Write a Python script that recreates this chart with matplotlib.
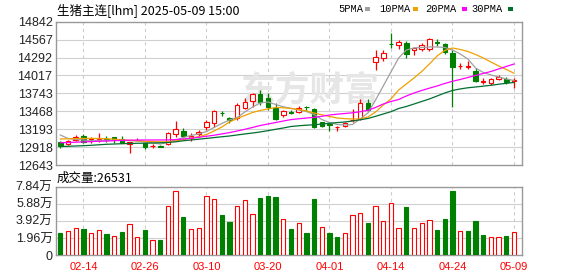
import matplotlib
matplotlib.use("Agg")
import matplotlib.pyplot as plt
from matplotlib.patches import Rectangle

plt.rcParams['font.family'] = ['Liberation Sans', 'Noto Sans CJK SC', 'DejaVu Sans']

# 交易日 (2025)
dates = ["02-11", "02-12", "02-13", "02-14", "02-17", "02-18", "02-19", "02-20", "02-21",
         "02-24", "02-25", "02-26", "02-27", "02-28",
         "03-03", "03-04", "03-05", "03-06", "03-07", "03-10", "03-11", "03-12", "03-13", "03-14",
         "03-17", "03-18", "03-19", "03-20", "03-21", "03-24", "03-25", "03-26", "03-27", "03-28", "03-31",
         "04-01", "04-02", "04-03", "04-07", "04-08", "04-09", "04-10", "04-11", "04-14", "04-15",
         "04-16", "04-17", "04-18", "04-21", "04-22", "04-23", "04-24", "04-25", "04-28", "04-29", "04-30",
         "05-06", "05-07", "05-08", "05-09"]

opens = [13001, 12970, 13034, 13093, 13019, 13022, 13037, 13073, 13037, 12965,
         13019, 12976, 12928, 12934, 12965, 13114, 13170, 13053, 13119, 13222,
         13292, 13444, 13369, 13360, 13513, 13625, 13727, 13667, 13523, 13411,
         13455, 13462, 13540, 13500, 13298, 13265, 13219, 13242, 13334, 13349,
         13590, 14229, 14290, 14500, 14480, 14511, 14403, 14419, 14419, 14525,
         14496, 14367, 14158, 14152, 14086, 13917, 13906, 13958, 13958, 13932]
highs = [13008, 13031, 13096, 13119, 13065, 13134, 13088, 13073, 13088, 13001,
         13057, 12985, 12961, 12955, 13145, 13323, 13206, 13130, 13180, 13334,
         13487, 13476, 13384, 13590, 13667, 13753, 13794, 13744, 13590, 13487,
         13487, 13549, 13553, 13520, 13308, 13308, 13246, 13308, 13498, 13656,
         13656, 14408, 14408, 14674, 14562, 14546, 14459, 14511, 14592, 14577,
         14511, 14408, 14213, 14244, 14127, 13974, 13974, 14024, 13998, 13983]
lows = [12900, 12955, 13011, 12985, 12981, 13001, 12991, 12976, 12981, 12832,
        13011, 12884, 12899, 12915, 12950, 13077, 13062, 13016, 13077, 13180,
        13231, 13400, 13292, 13334, 13503, 13538, 13564, 13487, 13334, 13375,
        13421, 13437, 13472, 13215, 13231, 13165, 13170, 13222, 13308, 13334,
        13452, 14101, 14244, 14444, 14428, 14290, 14326, 14397, 14388, 14470,
        14342, 13538, 14112, 14117, 13917, 13882, 13871, 13943, 13882, 13829]
closes = [12939, 13011, 13073, 13001, 13042, 13047, 13022, 13037, 12985, 13001,
          13027, 12919, 12938, 12926, 13130, 13196, 13088, 13088, 13154, 13298,
          13472, 13434, 13334, 13564, 13605, 13727, 13615, 13538, 13344, 13472,
          13447, 13523, 13530, 13222, 13246, 13258, 13224, 13283, 13341, 13590,
          13487, 14297, 14358, 14493, 14531, 14342, 14444, 14485, 14577, 14515,
          14382, 14152, 14168, 14156, 13932, 13927, 13958, 13998, 13912, 13942]

ma5 = [13104, 13050, 13034, 13027, 13015, 13019, 13022, 13024, 13019, 13016,
       13011, 12996, 12981, 12965, 12988, 13027, 13065, 13096, 13119, 13157,
       13219, 13280, 13334, 13372, 13457, 13533, 13595, 13610, 13572, 13536,
       13513, 13487, 13464, 13418, 13341, 13295, 13265, 13257, 13265, 13349,
       13441, 13641, 13856, 14071, 14285, 14408, 14439, 14447, 14454, 14454,
       14447, 14408, 14347, 14270, 14132, 14063, 14025, 13994, 13963, 13940]
ma10 = [13042, 13045, 13048, 13051, 13051, 13050, 13047, 13039, 13030, 13022,
        13015, 13007, 13002, 12999, 12999, 13011, 13034, 13057, 13077, 13111,
        13165, 13226, 13303, 13357, 13403, 13449, 13480, 13503, 13526, 13521,
        13510, 13495, 13472, 13441, 13414, 13388, 13364, 13354, 13349, 13349,
        13380, 13457, 13564, 13656, 13794, 13886, 13979, 14078, 14193, 14316,
        14401, 14439, 14416, 14385, 14339, 14285, 14224, 14163, 14109, 14051]
ma20 = [12985, 12988, 12993, 12998, 13002, 13007, 13011, 13016, 13021, 13024,
        13025, 13027, 13027, 13027, 13028, 13033, 13042, 13054, 13068, 13084,
        13100, 13120, 13140, 13165, 13191, 13219, 13249, 13272, 13295, 13318,
        13340, 13352, 13364, 13374, 13390, 13410, 13423, 13433, 13444, 13460,
        13483, 13526, 13579, 13618, 13648, 13702, 13748, 13787, 13822, 13856,
        13894, 13928, 13955, 13986, 14017, 14048, 14078, 14117, 14155, 14193]
ma30 = [12927, 12930, 12935, 12939, 12945, 12953, 12961, 12965, 12970, 12973,
        12976, 12978, 12981, 12984, 12988, 12999, 13015, 13027, 13039, 13051,
        13064, 13076, 13088, 13104, 13119, 13134, 13150, 13170, 13191, 13211,
        13234, 13245, 13254, 13260, 13272, 13283, 13294, 13303, 13318, 13337,
        13357, 13390, 13426, 13461, 13510, 13541, 13579, 13618, 13656, 13702,
        13748, 13787, 13810, 13828, 13840, 13853, 13866, 13882, 13897, 13909]

volumes = [25300, 27600, 31000, 29900, 25300, 28700, 24100, 21800, 26400, 35200,
           20700, 28700, 17200, 17200, 56300, 73600, 43700, 29900, 31000, 67800,
           64400, 46000, 37900, 56300, 63200, 47100, 65500, 67800, 66700, 41400,
           29900, 36800, 25300, 64400, 32200, 25300, 20700, 25300, 46000, 48300,
           36800, 56300, 39100, 59800, 31000, 55200, 31000, 36800, 40200, 28700,
           41400, 73600, 27600, 27600, 39100, 23000, 20700, 20700, 21800, 26531]
vol_up = "GRRGRRGRGRRGRGRRGRRRRGGRRRGGGRGRGGRGGRRRGRRRRGRRRGGGRGGGRRGR"

price_ticks = [12643, 12918, 13193, 13468, 13743, 14017, 14292, 14567, 14842]
vol_ticks = [0, 19600, 39200, 58800, 78400]
vol_labels = ["0", "1.96万", "3.92万", "5.88万", "7.84万"]
date_labels = ["02-14", "02-26", "03-10", "03-20", "04-01", "04-14", "04-24", "05-09"]

ma_names = ["5PMA", "10PMA", "20PMA", "30PMA"]
ma_colors = ["#a0a0a0", "#f0a000", "#ff00ff", "#006f30"]
RED = "#ff0000"
GREEN = "#008000"
W, H = 578, 276

fig = plt.figure(figsize=(W / 100, H / 100), dpi=100)
ax = fig.add_axes([56 / W, 1 - 165 / H, 466.3 / W, 143.3 / H])
axv = fig.add_axes([56 / W, 1 - 255 / H, 466.3 / W, 68.3 / H])

x = list(range(len(dates)))
tick_pos = [dates.index(d) for d in date_labels]

for a in (ax, axv):
    a.set_xlim(-0.56, len(dates) + 0.08)
    for s in a.spines.values():
        s.set_color("#999999")
        s.set_linewidth(1.0)
    a.tick_params(length=0)
    for p in tick_pos:
        a.axvline(p, color="#cccccc", lw=0.8, ls=(0, (3, 3)), zorder=0)

# K线
ax.set_ylim(price_ticks[0], price_ticks[-1])
for v in price_ticks[1:-1]:
    ax.axhline(v, color="#d0d0d0", lw=0.8, zorder=0)
ax.text(0.545, 0.52, "东方财富", transform=ax.transAxes, fontsize=25, fontweight="bold",
        color="#e6e6e6", family=["Noto Sans CJK SC"], ha="center", va="center", zorder=0)

for i in x:
    o, c = opens[i], closes[i]
    col = RED if c >= o else GREEN
    ax.vlines(i, lows[i], highs[i], color=col, lw=0.9, zorder=2)
    body_h = max(abs(c - o), 4)
    ax.bar(i, body_h, bottom=min(o, c), width=0.58,
           facecolor="white" if c >= o else GREEN, edgecolor=col, lw=0.8, zorder=3)

for vals, col in zip([ma5, ma10, ma20, ma30], ma_colors):
    ax.plot(x, vals, color=col, lw=0.9, zorder=4)

ax.set_yticks(price_ticks)
ax.set_yticklabels([str(v) for v in price_ticks], fontsize=9, color="#222222")
ax.tick_params(axis="y", pad=2.5)
ax.set_xticks([])

# 成交量
axv.set_ylim(vol_ticks[0], vol_ticks[-1])
for v in vol_ticks[1:-1]:
    axv.axhline(v, color="#d0d0d0", lw=0.8, zorder=0)
for i in x:
    up = vol_up[i] == "R"
    axv.bar(i, volumes[i], width=0.56, facecolor="white" if up else GREEN,
            edgecolor=RED if up else GREEN, lw=0.8, zorder=3)
axv.set_yticks(vol_ticks)
axv.set_yticklabels(vol_labels, fontsize=9, color="#222222")
axv.tick_params(axis="y", pad=2.5)
axv.set_xticks(tick_pos)
axv.set_xticklabels(date_labels, fontsize=8, color=RED)
axv.tick_params(axis="x", pad=5)

# 标题与图例
fig.text(57 / W, 1 - 10 / H, "生猪主连[lhm] 2025-05-09 15:00", fontsize=9,
         family=["Noto Sans CJK SC", "DejaVu Sans"], va="center", ha="left")
fig.text(57 / W, 1 - 178 / H, "成交量:" + str(volumes[-1]), fontsize=9,
         family=["Noto Sans CJK SC", "DejaVu Sans"], va="center", ha="left")

lx = [338, 379, 425, 471]
sq = [365, 413, 462, 508]
for name, col, px, qx in zip(ma_names, ma_colors, lx, sq):
    fig.text(px / W, 1 - 9 / H, name, fontsize=7.5, va="center", ha="left",
             family=["Liberation Mono"])
    fig.add_artist(Rectangle((qx / W, 1 - 11 / H), 5 / W, 4 / H, transform=fig.transFigure,
                             facecolor=col, edgecolor="none"))

fig.savefig("out.png", dpi=100)
